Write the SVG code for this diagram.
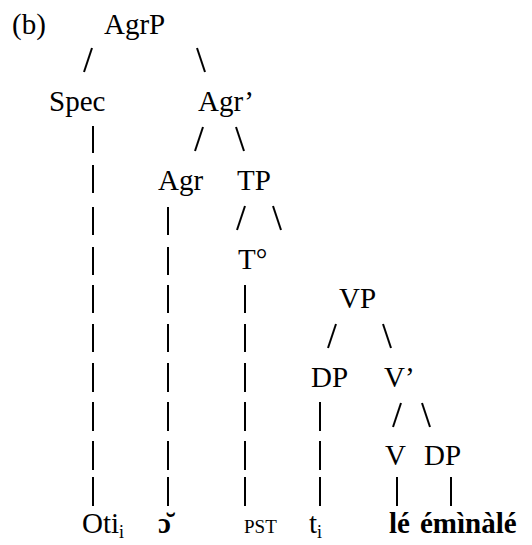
<svg xmlns="http://www.w3.org/2000/svg" width="532" height="545" viewBox="0 0 532 545">
<style>
text{font-family:"Liberation Serif","Times New Roman",serif;font-size:29px;fill:#000}
text.b{font-weight:bold}
text.sc{font-size:19px}
tspan.sub{font-size:18px}
.c line{stroke:#000;stroke-width:2}
</style>
<rect width="532" height="545" fill="#fff"/>
<g id="label"><text x="12" y="34">(b)</text></g>
<g id="AgrP"><text x="104" y="34">AgrP</text></g>
<g id="Spec"><text x="49" y="111">Spec</text></g>
<g id="AgrBar"><text x="198" y="111">Agr’</text></g>
<g id="Agr"><text x="158" y="190">Agr</text></g>
<g id="TP"><text x="237" y="190">TP</text></g>
<g id="T0"><text x="238" y="269">T°</text></g>
<g id="VP"><text x="339" y="308">VP</text></g>
<g id="DP1"><text x="311" y="387">DP</text></g>
<g id="Vbar"><text x="384" y="387">V’</text></g>
<g id="V"><text x="385" y="465">V</text></g>
<g id="DP2"><text x="424" y="465">DP</text></g>
<g id="Oti"><text x="82" y="533">Oti<tspan class="sub" dy="5">i</tspan></text></g>
<g id="o"><text class="b" x="158" y="533">ɔ̆</text></g>
<g id="PST"><text class="sc" x="244" y="533">PST</text></g>
<g id="t"><text x="309" y="533">t<tspan class="sub" dy="5">i</tspan></text></g>
<g id="le"><text class="b" x="389" y="533">lé</text></g>
<g id="eminale"><text class="b" x="420" y="533">émìnàlé</text></g>
<g class="c" id="connectors">
<line x1="92" y1="48" x2="84" y2="72"/>
<line x1="197" y1="48" x2="205" y2="72"/>
<line x1="203" y1="127" x2="195" y2="151"/>
<line x1="236" y1="127" x2="244" y2="151"/>
<line x1="245" y1="206" x2="237" y2="230"/>
<line x1="273" y1="206" x2="281" y2="230"/>
<line x1="336" y1="324" x2="328" y2="348"/>
<line x1="383" y1="324" x2="391" y2="348"/>
<line x1="401" y1="403" x2="393" y2="427"/>
<line x1="422" y1="403" x2="430" y2="427"/>
<line x1="93" y1="126" x2="93" y2="153"/>
<line x1="93" y1="165" x2="93" y2="193"/>
<line x1="93" y1="207" x2="93" y2="235"/>
<line x1="93" y1="247" x2="93" y2="275"/>
<line x1="93" y1="285" x2="93" y2="313"/>
<line x1="93" y1="324" x2="93" y2="352"/>
<line x1="93" y1="363" x2="93" y2="392"/>
<line x1="93" y1="402" x2="93" y2="431"/>
<line x1="93" y1="441" x2="93" y2="470"/>
<line x1="93" y1="477" x2="93" y2="506"/>
<line x1="168" y1="207" x2="168" y2="235"/>
<line x1="168" y1="247" x2="168" y2="275"/>
<line x1="168" y1="285" x2="168" y2="313"/>
<line x1="168" y1="324" x2="168" y2="352"/>
<line x1="168" y1="363" x2="168" y2="392"/>
<line x1="168" y1="402" x2="168" y2="431"/>
<line x1="168" y1="441" x2="168" y2="470"/>
<line x1="168" y1="477" x2="168" y2="506"/>
<line x1="245" y1="285" x2="245" y2="313"/>
<line x1="245" y1="324" x2="245" y2="352"/>
<line x1="245" y1="363" x2="245" y2="392"/>
<line x1="245" y1="402" x2="245" y2="431"/>
<line x1="245" y1="441" x2="245" y2="470"/>
<line x1="245" y1="477" x2="245" y2="506"/>
<line x1="320" y1="402" x2="320" y2="431"/>
<line x1="320" y1="441" x2="320" y2="470"/>
<line x1="320" y1="477" x2="320" y2="506"/>
<line x1="397" y1="477" x2="397" y2="506"/>
<line x1="451" y1="477" x2="451" y2="506"/>
</g>
</svg>
